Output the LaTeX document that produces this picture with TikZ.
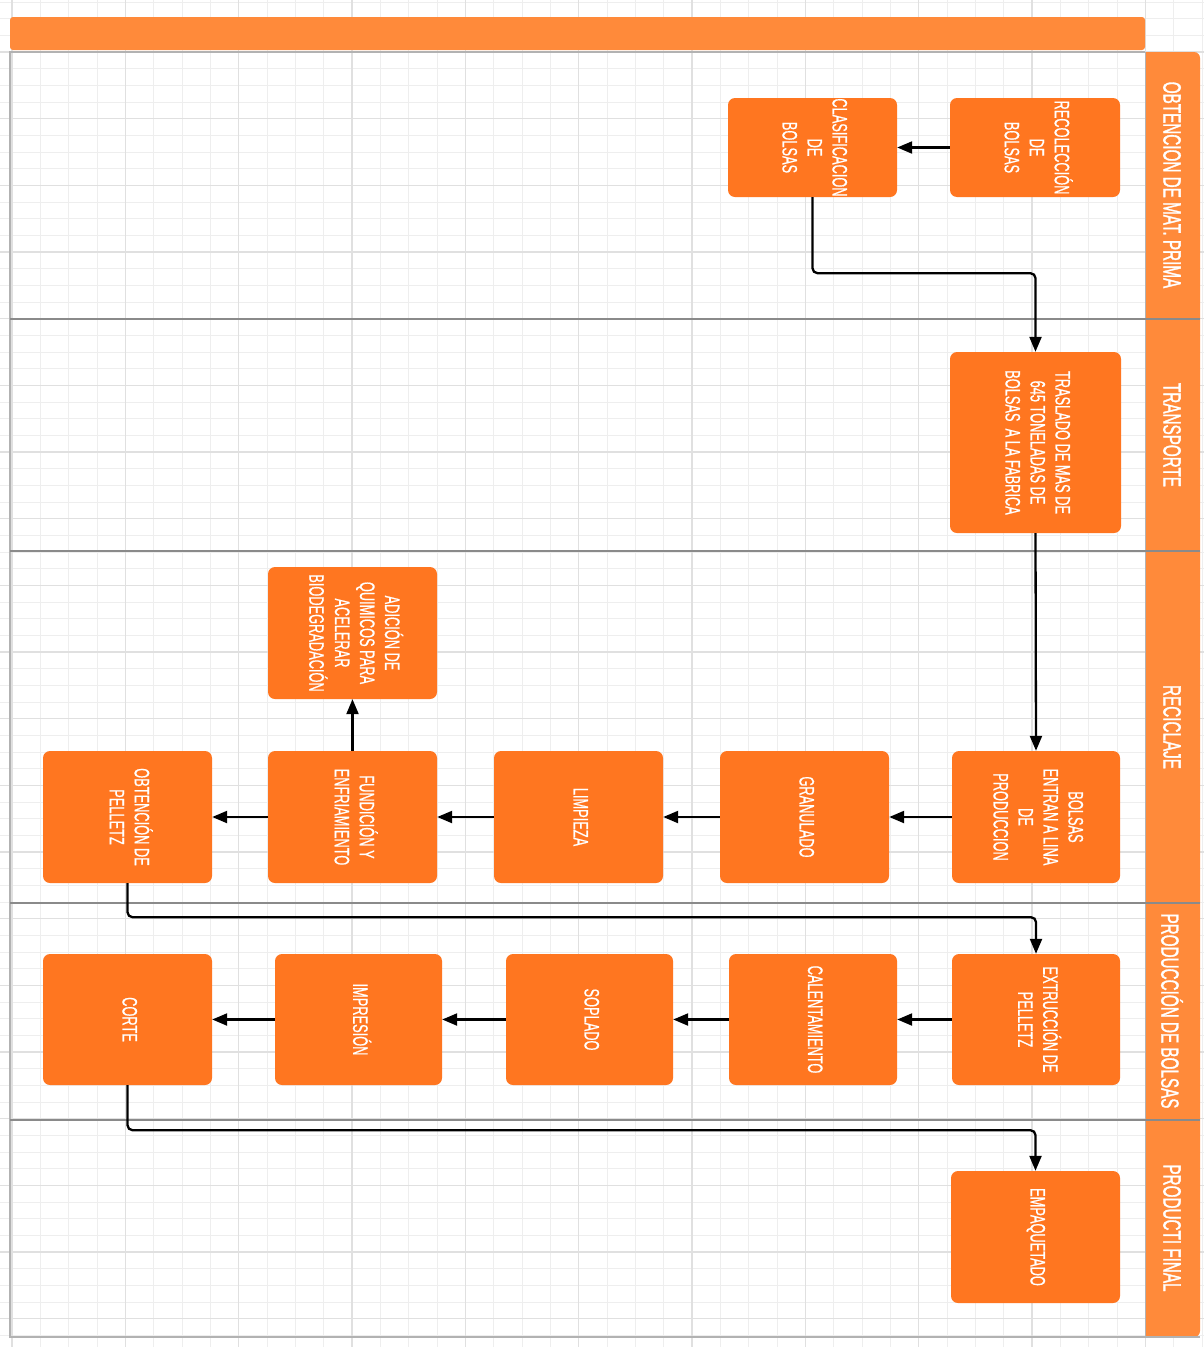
\documentclass[tikz,border=0pt]{standalone}
\usepackage{fontspec}
\usepackage{graphicx}
\setmainfont{Liberation Sans}
\newfontfamily\cnd[FakeStretch=0.61,FakeBold=0.6]{Liberation Sans}
\newfontfamily\cndb[FakeStretch=0.61,FakeBold=1.2]{Liberation Sans}
\usetikzlibrary{arrows.meta}
\definecolor{boxor}{HTML}{FF7620}
\definecolor{hdror}{HTML}{FF8A3A}
\definecolor{gridmin}{HTML}{EEEEEE}
\definecolor{gridmaj}{HTML}{E0E0E0}
\definecolor{laneln}{HTML}{8A8A8A}
\newcommand\rt[1]{\rotatebox{-90}{\begin{tabular}{@{}c@{}}#1\end{tabular}}}
\begin{document}
\begin{tikzpicture}[x=1pt,y=-1pt,
  box/.style={fill=boxor, rounded corners=7pt, inner sep=0pt, text=white,
    font=\cnd\fontsize{21}{25}\selectfont, minimum width=169pt, minimum height=132pt},
  lanelbl/.style={text=white, inner sep=0pt, font=\cndb\fontsize{25}{30}\selectfont},
  conn/.style={draw=black, line width=2.3pt, rounded corners=5pt, -{Triangle[length=15pt,width=12pt]}},
  gmin/.style={draw=gridmin, line width=1pt},
  gmaj/.style={draw=gridmaj, line width=1.2pt}]
\useasboundingbox (0,0) rectangle (1204,1347);
\fill[white] (0,0) rectangle (1204,1347);
% grid
\foreach \i in {-1,...,42}{\draw[gmin] ({12+28.3333*\i},0) -- ({12+28.3333*\i},1347);}
\foreach \j in {-3,...,77}{\draw[gmin] (0,{52+16.6667*\j}) -- (1204,{52+16.6667*\j});}
\foreach \i in {0,...,10}{\draw[gmaj] ({12+113.3333*\i},0) -- ({12+113.3333*\i},1347);}
\foreach \j in {0,...,19}{\draw[gmaj] (0,{52+66.6667*\j}) -- (1204,{52+66.6667*\j});}
% pool frame
\fill[hdror, rounded corners=3pt] (10,17) rectangle (1145,50);
\fill[hdror, rounded corners=6pt] (1145,52) rectangle (1200,1337);
\fill[hdror] (1145,52) rectangle (1165,1337);
\draw[gray!60, line width=1.8pt] (1145,52) -- (10,52) -- (10,1337) -- (1200,1337);
\draw[gray!60, line width=1pt] (1145,52) -- (1145,1337);
\foreach \yy in {319,551,903,1120}{\draw[laneln, line width=1.2pt] (10,\yy) -- (1200,\yy);}
% lane labels
\node[lanelbl] (lane1) at (1172,185) {\rotatebox{-90}{OBTENCION DE MAT. PRIMA}};
\node[lanelbl] (lane2) at (1172,435) {\rotatebox{-90}{TRANSPORTE}};
\node[lanelbl] (lane3) at (1172,727) {\rotatebox{-90}{RECICLAJE}};
\node[lanelbl] (lane4) at (1172,1011) {\rotatebox{-90}{PRODUCCIÓN DE BOLSAS}};
\node[lanelbl] (lane5) at (1172,1228) {\rotatebox{-90}{PRODUCTI FINAL}};
% boxes
\node[box, minimum width=170pt, minimum height=99pt] (rec) at (1035,147.5) {\rt{RECOLECCIÓN\\DE\\BOLSAS}};
\node[box, minimum width=169pt, minimum height=99pt] (clas) at (812.5,147.5) {\rt{CLASIFICACION\\DE\\BOLSAS}};
\node[box, minimum width=171pt, minimum height=181pt] (tras) at (1035.5,442.5) {\rt{TRASLADO DE MAS DE\\645 TONELADAS DE\\BOLSAS\ \ A LA FABRICA}};
\node[box] (adic) at (352.5,633) {\rt{ADICIÓN DE\\QUIMICOS PARA\\ACELERAR\\BIODEGRADACIÓN}};
\node[box, minimum width=168pt] (entr) at (1036,817) {\rt{BOLSAS\\ENTRAN A LINA\\DE\\PRODUCCION}};
\node[box] (gran) at (804.5,817) {\rt{GRANULADO}};
\node[box] (limp) at (578.5,817) {\rt{LIMPIEZA}};
\node[box] (fund) at (352.5,817) {\rt{FUNDICIÓN Y\\ENFRIAMIENTO}};
\node[box] (obt) at (127.5,817) {\rt{OBTENCIÓN DE\\PELLETZ}};
\node[box, minimum width=168pt, minimum height=131pt] (extr) at (1036,1019.5) {\rt{EXTRUCCIÓN DE\\PELLETZ}};
\node[box, minimum width=168pt, minimum height=131pt] (cal) at (813,1019.5) {\rt{CALENTAMIENTO}};
\node[box, minimum width=167pt, minimum height=131pt] (sopl) at (589.5,1019.5) {\rt{SOPLADO}};
\node[box, minimum width=167pt, minimum height=131pt] (impr) at (358.5,1019.5) {\rt{IMPRESIÓN}};
\node[box, minimum height=131pt] (corte) at (127.5,1019.5) {\rt{CORTE}};
\node[box] (emp) at (1035.5,1237) {\rt{EMPAQUETADO}};
% connectors
\draw[conn] (rec.west) -- (clas.east);
\draw[conn] (clas.south) -- ++(0,76) -| (tras.north);
\draw[conn] (tras.south) -- (entr.north);
\draw[conn] (entr.west) -- (gran.east);
\draw[conn] (gran.west) -- (limp.east);
\draw[conn] (limp.west) -- (fund.east);
\draw[conn] (fund.west) -- (obt.east);
\draw[conn] (fund.north) -- (adic.south);
\draw[conn] (obt.south) -- ++(0,34) -| (extr.north);
\draw[conn] (extr.west) -- (cal.east);
\draw[conn] (cal.west) -- (sopl.east);
\draw[conn] (sopl.west) -- (impr.east);
\draw[conn] (impr.west) -- (corte.east);
\draw[conn] (corte.south) -- ++(0,45) -| (emp.north);
\end{tikzpicture}
\end{document}
